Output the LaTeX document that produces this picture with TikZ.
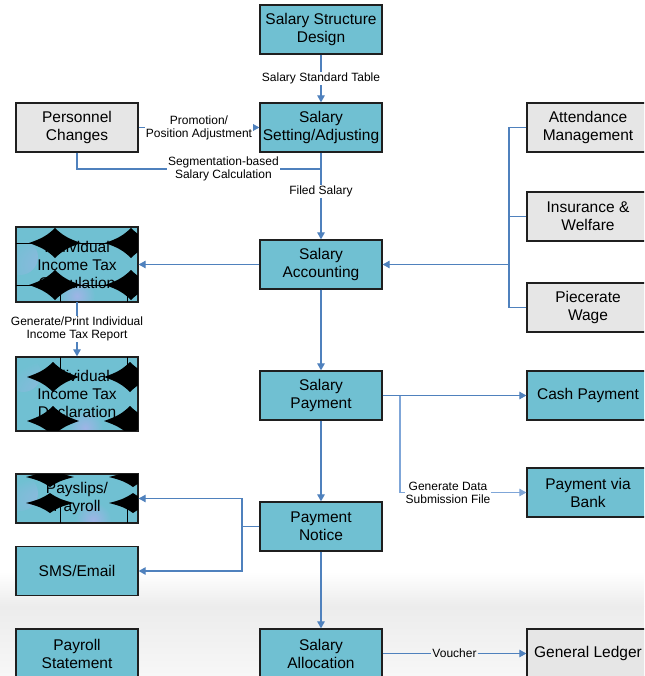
\documentclass[tikz,border=0pt]{standalone}
\usepackage{fontspec}
\setmainfont{Liberation Sans}
\usetikzlibrary{arrows.meta}
\definecolor{teal1}{HTML}{70C0D2}
\definecolor{gray1}{HTML}{E6E6E6}
\definecolor{lineblue}{HTML}{4F81BD}
\definecolor{lineblue2}{HTML}{7FA6D8}
\definecolor{lav}{HTML}{9FB4E6}
\definecolor{bgA}{HTML}{ECECEC}
\definecolor{bgB}{HTML}{F7F7F7}
\tikzset{
 box/.style={draw=black!88, line width=1.3pt, minimum width=122pt, minimum height=49pt,
   inner sep=0pt, align=center, font=\fontsize{15.5}{18}\selectfont},
 tealbox/.style={box, fill=teal1},
 graybox/.style={box, fill=gray1},
 tallbox/.style={tealbox, minimum height=74pt},
 conn/.style={draw=lineblue, line width=1.1pt},
 arr/.style={conn, -{Triangle[length=7pt,width=7.5pt]}},
 lbl/.style={fill=white, inner sep=1pt, align=center, font=\fontsize{12}{13}\selectfont},
 spots/.style 2 args={path picture={
   \shade[inner color=lav, outer color=teal1] ([shift={#1}]path picture bounding box.west) circle (18);
   \shade[inner color=lav, outer color=teal1] ([shift={#2}]path picture bounding box.center) circle (18);}},
}
% four-pointed black star at (#1,#2), half width #3, half height #4
\newcommand\mystar[4]{%
 \fill[black] ({#1+#3},{#2})
   .. controls ({#1+0.5*#3},{#2+0.3*#4}) and ({#1+0.3*#3},{#2+0.5*#4}) .. ({#1},{#2+#4})
   .. controls ({#1-0.3*#3},{#2+0.5*#4}) and ({#1-0.5*#3},{#2+0.3*#4}) .. ({#1-#3},{#2})
   .. controls ({#1-0.5*#3},{#2-0.3*#4}) and ({#1-0.3*#3},{#2-0.5*#4}) .. ({#1},{#2-#4})
   .. controls ({#1+0.3*#3},{#2-0.5*#4}) and ({#1+0.5*#3},{#2-0.3*#4}) .. cycle;}
\begin{document}
\begin{tikzpicture}[x=1pt,y=-1pt]
\clip (0,0) rectangle (644,676);
\fill[white] (0,0) rectangle (644,676);
\shade[top color=white, bottom color=bgA] (0,572) rectangle (644,606);
\shade[top color=bgA, bottom color=bgB] (0,606) rectangle (644,676);

% nodes
\node[tealbox] (design) at (321,29.5) {Salary Structure\\Design};
\node[tealbox] (setting) at (321,127.5) {Salary\\Setting/Adjusting};
\node[graybox] (personnel) at (77,127.5) {Personnel\\Changes};
\node[tealbox] (accounting) at (321,264.5) {Salary\\Accounting};
\node[tallbox, spots={(4,-7.5)}{(0,31.5)}] (taxcalc) at (77,264.5) {Individual\\Income Tax\\Calculation};
\node[tallbox, spots={(7,-20)}{(8,34)}] (taxdecl) at (77,394) {Individual\\Income Tax\\Declaration};
\node[graybox] (attendance) at (588,127.5) {Attendance\\Management};
\node[graybox] (insurance) at (588,216.5) {Insurance \&\\Welfare};
\node[graybox] (piece) at (588,307.5) {Piecerate\\Wage};
\node[tealbox] (payment) at (321,395.5) {Salary\\Payment};
\node[tealbox] (cash) at (588,395.5) {Cash Payment};
\node[tealbox] (bank) at (588,492.5) {Payment via\\Bank};
\node[tealbox, spots={(4,-5.5)}{(16,21.5)}] (payslips) at (77,498.5) {Payslips/\\Payroll};
\node[tealbox] (sms) at (77,571) {SMS/Email};
\node[tealbox] (notice) at (321,526.5) {Payment\\Notice};
\node[tealbox] (statement) at (77,653.5) {Payroll\\Statement};
\node[tealbox] (allocation) at (321,653.5) {Salary\\Allocation};
\node[graybox] (ledger) at (588,653.5) {General Ledger};

% star patterns over the three boxes
\begin{scope}
\clip (taxcalc.south west) rectangle (taxcalc.north east);
\foreach \sx in {55,131}{\foreach \sy in {243,285}{\mystar{\sx}{\sy}{26}{15}}}
\draw[black, line width=0.5pt] (0,243) -- (200,243) (0,285) -- (200,285) (60,285) -- (60,310) (127,285) -- (127,310);
\end{scope}
\begin{scope}
\clip (taxdecl.south west) rectangle (taxdecl.north east);
\foreach \sx in {53,130}{\foreach \sy in {377,421}{\mystar{\sx}{\sy}{26}{15}}}
\draw[black, line width=0.5pt] (60,350) -- (60,377) (127,350) -- (127,377);
\end{scope}
\begin{scope}
\clip (payslips.south west) rectangle (payslips.north east);
\foreach \sx in {50,133}{\foreach \sy in {477,503}{\mystar{\sx}{\sy}{24}{10}}}
\draw[black, line width=0.5pt] (60,503) -- (60,530) (127,503) -- (127,530);
\end{scope}
\draw[black!88, line width=1.3pt] (taxcalc.south west) rectangle (taxcalc.north east);
\draw[black!88, line width=1.3pt] (taxdecl.south west) rectangle (taxdecl.north east);
\draw[black!88, line width=1.3pt] (payslips.south west) rectangle (payslips.north east);

% connectors
\draw[arr] (design) -- node[lbl]{Salary Standard Table} (setting);
\draw[arr] (personnel) -- node[lbl]{Promotion/\\Position Adjustment} (setting);
\coordinate (segc) at (321,169);
\draw[conn] (personnel.south) |- node[lbl, pos=0.8]{Segmentation-based\\Salary Calculation} (segc);
\draw[arr] (setting) -- node[lbl, pos=0.45]{Filed Salary} (accounting);

\coordinate (busR) at (509,264.5);
\draw[conn] (attendance.west) -| (busR);
\draw[conn] (insurance.west) -| (busR);
\draw[conn] (piece.west) -| (busR);
\draw[arr] (busR) -- (accounting.east);

\draw[arr] (accounting.west) -- (taxcalc.east);
\draw[arr] (taxcalc) -- node[lbl]{Generate/Print Individual\\Income Tax Report} (taxdecl);

\draw[arr] (accounting) -- (payment);
\draw[arr] (payment) -- (cash);
\coordinate (brk) at (400,395.5);
\draw[arr, draw=lineblue2] (brk) |- node[lbl, pos=0.69]{Generate Data\\Submission File} (bank.west);

\draw[arr] (payment) -- (notice);
\coordinate (busL) at (242,526.5);
\draw[conn] (notice.west) -- (busL);
\draw[arr] (busL) |- (payslips.east);
\draw[arr] (busL) |- (sms.east);

\draw[arr] (notice) -- (allocation);
\path (allocation) -- node[lbl, fill=none] (vch) {Voucher} (ledger);
\draw[conn] (allocation) -- (vch);
\draw[arr] (vch) -- (ledger);
\end{tikzpicture}
\end{document}
